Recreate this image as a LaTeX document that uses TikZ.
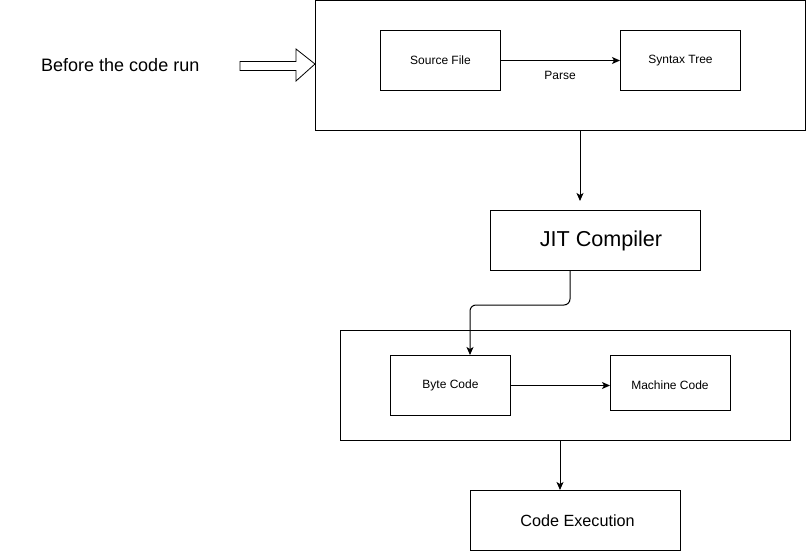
\documentclass[tikz,border=0pt]{standalone}
\usepackage{fontspec}
\setmainfont{Liberation Sans}
\usetikzlibrary{arrows.meta,calc}
\begin{document}
\begin{tikzpicture}[x=1pt,y=-1pt,
  box/.style={draw=black,line width=1pt,inner sep=0pt,anchor=north west,font=\fontsize{12}{14}\selectfont},
  arr/.style={draw=black,line width=1pt,-{Stealth[length=8pt,width=7pt,inset=2pt]}},
  lbl/.style={inner sep=0pt,font=\fontsize{12}{14}\selectfont}]
\useasboundingbox (0,0) rectangle (806,551);
% containers
\node[box,minimum width=490pt,minimum height=130pt] (top) at (315,0) {};
\node[box,minimum width=450pt,minimum height=110pt] (mid) at (340,330) {};
% inner boxes
\node[box,minimum width=120pt,minimum height=60pt] (src) at (380,30) {};
\node[lbl] at (src.center) {Source File};
\node[box,minimum width=120pt,minimum height=60pt] (syn) at (620,30) {};
\node[lbl] at (syn.center) {Syntax Tree};
\node[box,minimum width=210pt,minimum height=60pt] (jit) at (490,210) {};
\node[inner sep=0pt,font=\fontsize{21.6}{24}\selectfont] at (601,240.5) {JIT Compiler};
\node[box,minimum width=120pt,minimum height=60pt] (byte) at (390,355) {};
\node[lbl] at (byte.center) {Byte Code};
\node[box,minimum width=120pt,minimum height=55pt] (mach) at (610,355) {};
\node[lbl] at (670,385) {Machine Code};
\node[box,minimum width=210pt,minimum height=60pt] (exec) at (470,490) {};
\node[inner sep=0pt,font=\fontsize{16.2}{19}\selectfont] at (577.5,520.5) {Code Execution};
% left text and hollow arrow
\node[inner sep=0pt,anchor=west,font=\fontsize{18}{21}\selectfont] (before) at (41,65) {Before the code run};
\draw[line width=0.8pt,line join=miter] ($(top.north west)+(-75,61.5)$) -- ++(56,0) -- ++(0,-12.5) -- ($(top.north west)+(0,64)$) -- ++(-19,17) -- ++(0,-10.5) -- ++(-56,0) -- cycle;
% connectors
\draw[arr] (src.east) -- (syn.west);
\node[lbl] (parse) at (560,75) {Parse};
\coordinate (x580) at (580,0);
\draw[arr,shorten >=9pt] (top.south -| x580) -- (jit.north -| x580);
\coordinate (c1) at (570,305);
\coordinate (c2) at (470,305);
\draw[arr,rounded corners=6pt] (jit.south -| c1) -- (c1) -- (c2) -- (byte.north -| c2);
\draw[arr] (byte.east) -- (byte.east -| mach.west);
\coordinate (x560) at (560,0);
\draw[arr] (mid.south -| x560) -- (exec.north -| x560);
\end{tikzpicture}
\end{document}
